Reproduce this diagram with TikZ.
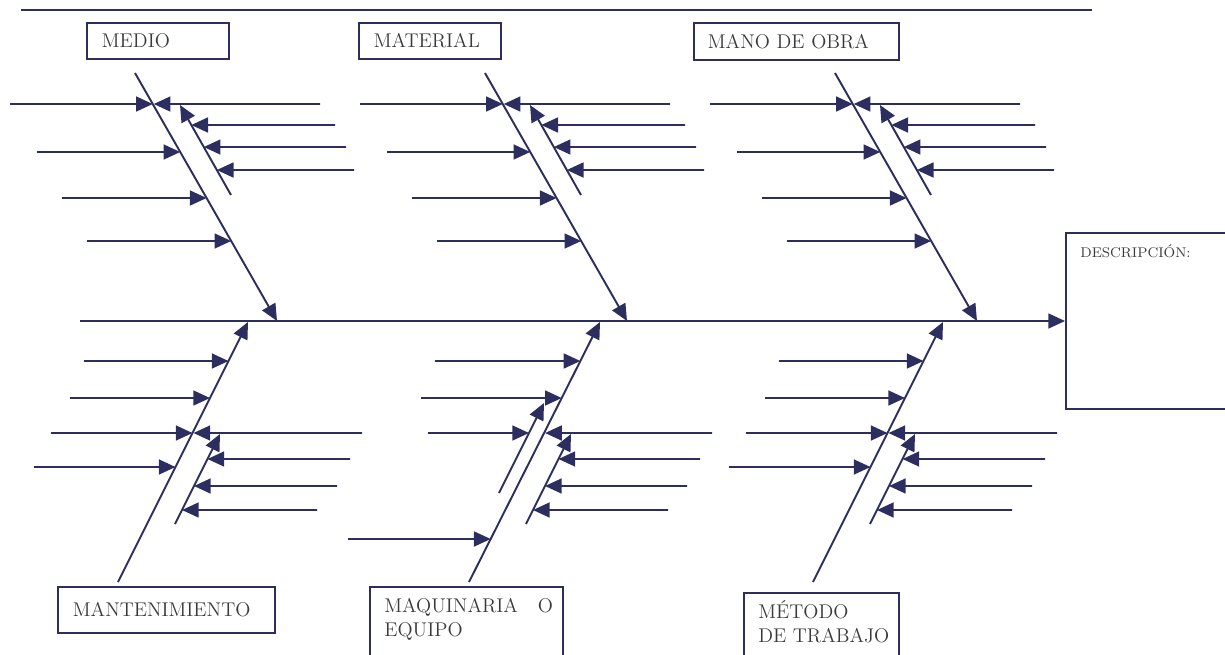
\documentclass[tikz,border=0pt]{standalone}
\usepackage{fontspec}
\usetikzlibrary{arrows.meta,calc}
\definecolor{bonecol}{RGB}{44,46,96}
\definecolor{labelcol}{RGB}{58,58,58}
\begin{document}
\begin{tikzpicture}[x=0.02cm,y=-0.02cm,
  bone/.style={draw=bonecol,line width=1.1pt},
  arr/.style={bone,-{Triangle[length=9.5pt,width=8.5pt]}},
  catbox/.style={draw=bonecol,line width=1pt,rectangle,inner ysep=0pt,
    font=\fontsize{11.3}{13.6}\selectfont,text=labelcol,align=left},
  cattext/.style={inner sep=0pt,font=\fontsize{11.3}{13.6}\selectfont,
    text=labelcol,align=left}]
\useasboundingbox (0,0) rectangle (1225,654);

% rule across the top
\draw[bone] (21,10) -- (1092,10);

% category boxes, upper row
\node[catbox,anchor=north west,minimum width=2.84cm,minimum height=0.72cm,
  text width=2.24cm,inner xsep=0.3cm] (medio) at (86,22) {MEDIO};
\node[catbox,anchor=north west,minimum width=2.84cm,minimum height=0.72cm,
  text width=2.24cm,inner xsep=0.3cm] (material) at (358,22) {MATERIAL};
\node[catbox,anchor=north west,minimum width=4.1cm,minimum height=0.74cm,
  text width=3.54cm,inner xsep=0.28cm] (mano) at (693,22) {MANO DE OBRA};

% category boxes, lower row
\node[catbox,anchor=north west,minimum width=4.34cm,minimum height=0.92cm,
  text width=3.74cm,inner xsep=0.3cm] (mant) at (57,586) {MANTENIMIENTO};
\node[catbox,anchor=north west,minimum width=3.86cm,minimum height=2cm] (maq) at (369,586) {};
\node[cattext,anchor=base west] (maqtext) at (384,636) {MAQUINARIA\quad O\\EQUIPO};
\node[catbox,anchor=north west,minimum width=3.1cm,minimum height=2cm] (metodo) at (743,592) {};
\node[cattext,anchor=base west] (metodotext) at (758,642) {MÉTODO\\DE TRABAJO};

% effect box
\node[catbox,anchor=west,minimum width=4cm,minimum height=3.52cm] (desc) at (1065,321) {};
\node[cattext,anchor=base west,font=\fontsize{8}{9.6}\selectfont] (desctext) at (1080,257) {DESCRIPCIÓN:};

% spine
\coordinate (spine) at (80,321);
\draw[arr] (spine) -- (desc.west);

% upper bones
\foreach \n/\dx in {medio/0,material/350,mano/700}{
  \begin{scope}[shift={(\dx,0)}]
    \coordinate (\n-t) at (135,73);
    \coordinate (\n-h) at (277,321);
    \coordinate (\n-st) at (231,195);
    \coordinate (\n-sh) at (180,105);
    \draw[arr] (\n-t) -- (\n-h);
    \draw[arr] (\n-st) -- (\n-sh);
    \foreach \yy/\xs in {104/10,152/37,198/62,241/87}{
      \pgfmathsetmacro\pos{(\yy-73)/248}
      \draw[arr] (\xs,\yy) -- ($(\n-t)!\pos!(\n-h)$);}
    \pgfmathsetmacro\pos{(104-73)/248}
    \draw[arr] (320,104) -- ($(\n-t)!\pos!(\n-h)+(1,0)$);
    \foreach \yy/\xs in {125/335,147/346,170/354}{
      \pgfmathsetmacro\pos{(195-\yy)/90}
      \draw[arr] (\xs,\yy) -- ($(\n-st)!\pos!(\n-sh)$);}
  \end{scope}}

% lower bones: maintenance and work method
\foreach \n/\dx in {mant/0,metodo/695}{
  \begin{scope}[shift={(\dx,0)}]
    \coordinate (\n-t) at (118,582);
    \coordinate (\n-h) at (248,322);
    \coordinate (\n-st) at (175,524);
    \coordinate (\n-sh) at (220,434);
    \draw[arr] (\n-t) -- (\n-h);
    \draw[arr] (\n-st) -- (\n-sh);
    \foreach \yy/\xs in {361/84,398/70,433/51,467/34}{
      \pgfmathsetmacro\pos{(582-\yy)/260}
      \draw[arr] (\xs,\yy) -- ($(\n-t)!\pos!(\n-h)$);}
    \pgfmathsetmacro\pos{(582-433)/260}
    \draw[arr] (362,433) -- ($(\n-t)!\pos!(\n-h)+(1,0)$);
    \foreach \yy/\xs in {459/350,486/337,510/317}{
      \pgfmathsetmacro\pos{(524-\yy)/90}
      \draw[arr] (\xs,\yy) -- ($(\n-st)!\pos!(\n-sh)$);}
  \end{scope}}

% lower bone: machinery or equipment
\coordinate (maq-t) at (469,582);
\coordinate (maq-h) at (600,322);
\coordinate (maq-lt) at (499,493);
\coordinate (maq-lh) at (544,403);
\coordinate (maq-rt) at (526,524);
\coordinate (maq-rh) at (571,434);
\draw[arr] (maq-t) -- (maq-h);
\draw[arr] (maq-lt) -- (maq-lh);
\draw[arr] (maq-rt) -- (maq-rh);
\foreach \yy/\xs in {361/435,398/421,539/348}{
  \pgfmathsetmacro\pos{(582-\yy)/260}
  \draw[arr] (\xs,\yy) -- ($(maq-t)!\pos!(maq-h)$);}
\pgfmathsetmacro\pos{(493-433)/90}
\draw[arr] (428,433) -- ($(maq-lt)!\pos!(maq-lh)$);
\pgfmathsetmacro\pos{(582-433)/260}
\draw[arr] (712,433) -- ($(maq-t)!\pos!(maq-h)+(1,0)$);
\foreach \yy/\xs in {459/700,486/687,510/668}{
  \pgfmathsetmacro\pos{(524-\yy)/90}
  \draw[arr] (\xs,\yy) -- ($(maq-rt)!\pos!(maq-rh)$);}
\end{tikzpicture}
\end{document}
